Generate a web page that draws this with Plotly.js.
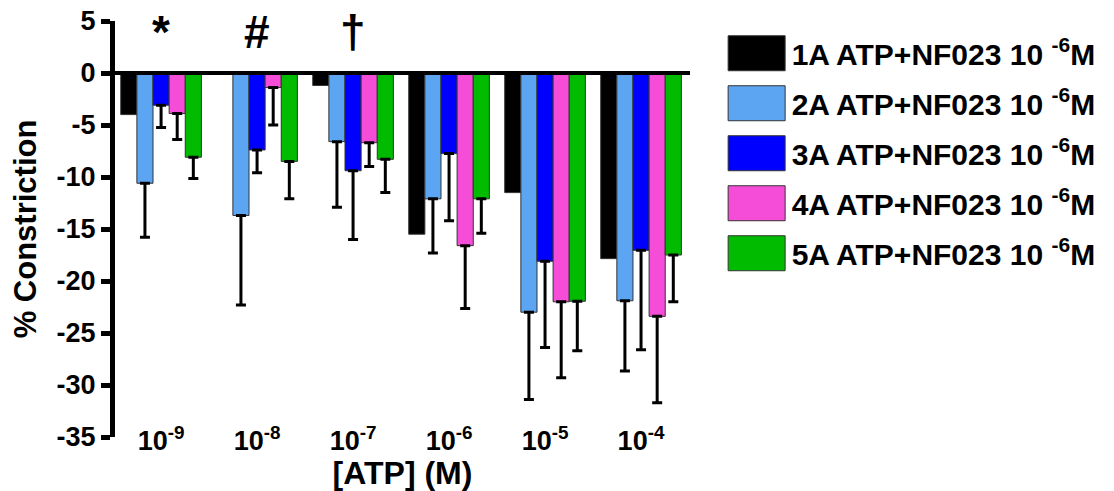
<!DOCTYPE html>
<html><head><meta charset="utf-8">
<script src="https://cdn.plot.ly/plotly-3.0.1.min.js"></script>
<style>html,body{margin:0;padding:0;background:#fff}#chart{width:1114px;height:491px}</style>
</head><body><div id="chart"></div>
<script>
// ---- data ----
const categories = ['10<sup>-9</sup>', '10<sup>-8</sup>', '10<sup>-7</sup>', '10<sup>-6</sup>', '10<sup>-5</sup>', '10<sup>-4</sup>'];
const seriesNames = [
  '1A ATP+NF023 10 <sup>-6</sup>M',
  '2A ATP+NF023 10 <sup>-6</sup>M',
  '3A ATP+NF023 10 <sup>-6</sup>M',
  '4A ATP+NF023 10 <sup>-6</sup>M',
  '5A ATP+NF023 10 <sup>-6</sup>M'
];
const s1 = [-4.0, 0, -1.2, -15.5, -11.5, -17.85];
const s1err = [0, 0, 0, 0, 0, 0];
const s2 = [-10.6, -13.7, -6.6, -12.1, -23.0, -21.9];
const s2err = [5.2, 8.6, 6.3, 5.2, 8.4, 6.75];
const s3 = [-3.1, -7.4, -9.4, -7.75, -18.1, -17.05];
const s3err = [2.15, 2.2, 6.6, 6.45, 8.3, 9.55];
const s4 = [-3.9, -1.4, -6.7, -16.6, -22.0, -23.4];
const s4err = [2.5, 3.6, 2.3, 6.05, 7.3, 8.3];
const s5 = [-8.1, -8.5, -8.3, -12.1, -21.95, -17.5];
const s5err = [2.05, 3.6, 3.2, 3.3, 4.75, 4.5];
const sigLabels = ['*', '#', '\u2020', '', '', ''];
const sigY = 3.9;
const yTicks = [5, 0, -5, -10, -15, -20, -25, -30, -35];

// ---- style ----
const colors = ['#000000', '#5CA5F2', '#0000FF', '#F54DD8', '#00BB00'];
const FONT = 'Liberation Sans, Arial, sans-serif';
const values = [s1, s2, s3, s4, s5];
const errs = [s1err, s2err, s3err, s4err, s5err];

const traces = values.map((v, i) => ({
  type: 'bar',
  x: categories,
  y: v,
  name: seriesNames[i],
  legendgroup: 'g' + i,
  marker: {color: colors[i], line: {color: '#333333', width: 1}},
  error_y: {
    type: 'data', symmetric: false,
    array: v.map(() => 0),
    arrayminus: errs[i],
    visible: errs[i].some(e => e > 0),
    color: '#000', thickness: 3, width: 5
  }
}));

const annotations = sigLabels.map((t, i) => ({
  x: categories[i], y: sigY, xref: 'x', yref: 'y', text: t,
  showarrow: false, font: {family: FONT, size: 46, weight: 'bold', color: '#000'}
})).filter(a => a.text !== '');

const layout = {
  width: 1114, height: 491,
  margin: {l: 115, r: 424, t: 21, b: 54},
  paper_bgcolor: '#fff', plot_bgcolor: '#fff',
  barmode: 'group', bargap: 0.16, bargroupgap: 0,
  font: {family: FONT, color: '#000'},
  xaxis: {
    type: 'category', range: [-0.48, 5.51],
    anchor: 'free', position: 0.035,
    showline: false, ticks: '', showgrid: false, zeroline: false,
    tickfont: {family: FONT, size: 27, weight: 'bold'},
    title: {text: '[ATP] (M)', font: {family: FONT, size: 32, weight: 'bold'}, standoff: 6}
  },
  yaxis: {
    range: [-35, 5], tickvals: yTicks, ticktext: yTicks.map(String),
    showline: true, linewidth: 5, linecolor: '#000',
    ticks: 'outside', ticklen: 9, tickwidth: 5, tickcolor: '#000',
    showgrid: false, zeroline: false,
    tickfont: {family: FONT, size: 27, weight: 'bold'},
    title: {text: '% Constriction', font: {family: FONT, size: 31, weight: 'bold'}, standoff: 12}
  },
  shapes: [{type: 'line', xref: 'paper', yref: 'y', x0: 0, x1: 1, y0: 0, y1: 0,
            line: {color: '#000', width: 4}, layer: 'above'}],
  annotations: annotations,
  showlegend: true,
  legend: {
    x: 1.055, xanchor: 'left', y: 0.985, yanchor: 'top',
    font: {family: FONT, size: 30, weight: 'bold', color: '#000'},
    itemwidth: 60, tracegroupgap: 8, traceorder: 'grouped',
    bgcolor: 'rgba(0,0,0,0)', borderwidth: 0
  }
};

Plotly.newPlot('chart', traces, layout, {displayModeBar: false, staticPlot: true}).then(gd => {
  gd.querySelectorAll('.legend .legendpoints path').forEach(p => {
    p.setAttribute('d', 'M28.5,17.5H-28.5V-17.5H28.5Z');
  });
});
</script>
</body></html>
